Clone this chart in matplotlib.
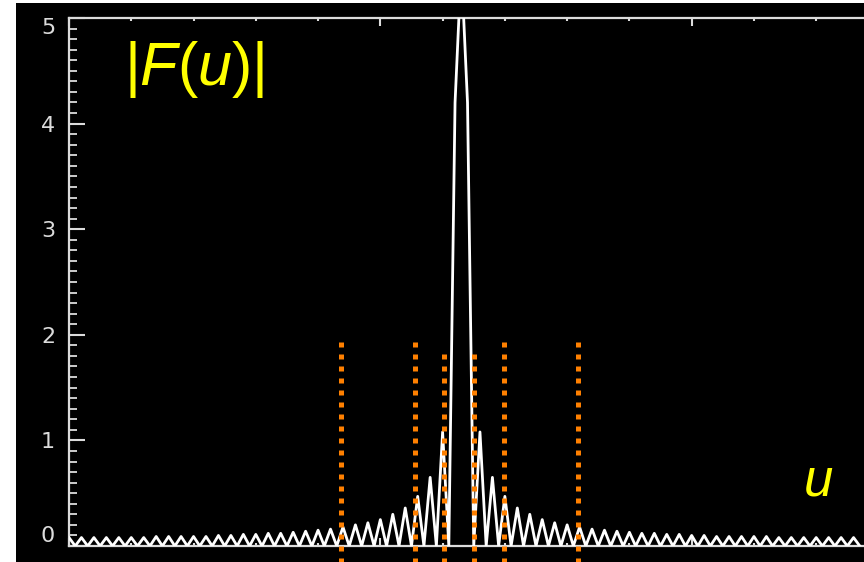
import matplotlib
matplotlib.use("Agg")
import matplotlib.pyplot as plt
import numpy as np
from matplotlib.patches import Rectangle
from matplotlib.ticker import MultipleLocator

plt.rcParams["mathtext.fontset"] = "custom"
plt.rcParams["mathtext.rm"] = "Liberation Sans"
plt.rcParams["mathtext.it"] = "Liberation Sans:italic"

# |F(u)| samples, u = 0 .. 127 (peak at u = 63, clipped at 5)
u = np.arange(128)
F_abs = [
    0.08, 0, 0.08, 0, 0.08, 0, 0.08, 0, 0.08, 0,
    0.08, 0, 0.08, 0, 0.09, 0, 0.09, 0, 0.09, 0,
    0.09, 0, 0.09, 0, 0.10, 0, 0.10, 0, 0.11, 0,
    0.11, 0, 0.12, 0, 0.12, 0, 0.13, 0, 0.14, 0,
    0.15, 0, 0.16, 0, 0.18, 0, 0.20, 0, 0.22, 0,
    0.25, 0, 0.30, 0, 0.36, 0, 0.47, 0, 0.65, 0,
    1.08, 0, 4.20, 5.50, 4.20, 0, 1.08, 0, 0.65, 0,
    0.47, 0, 0.36, 0, 0.30, 0, 0.25, 0, 0.22, 0,
    0.20, 0, 0.18, 0, 0.16, 0, 0.15, 0, 0.14, 0,
    0.13, 0, 0.12, 0, 0.12, 0, 0.11, 0, 0.11, 0,
    0.10, 0, 0.10, 0, 0.09, 0, 0.09, 0, 0.09, 0,
    0.09, 0, 0.09, 0, 0.08, 0, 0.08, 0, 0.08, 0,
    0.08, 0, 0.08, 0, 0.08, 0, 0.08, 0,
]

# orange dotted markers (u position, top value)
mark_u = [43.7, 55.5, 60.3, 65.0, 69.8, 81.7]
mark_top = [1.93, 1.93, 1.88, 1.88, 1.93, 1.93]

x_ticks = [0, 50, 100, 150]
y_ticks = [0, 1, 2, 3, 4, 5]

W, H = 864, 562
fig = plt.figure(figsize=(W / 100, H / 100), dpi=100, facecolor="white")
fig.patches.append(Rectangle((16 / W, 0), 1, (H - 3) / H, transform=fig.transFigure,
                             facecolor="black", edgecolor="none", zorder=-10))

ax = fig.add_axes([69 / W, (H - 546) / H, (1003 - 69) / W, 528 / H])
ax.set_facecolor("black")
ax.set_xlim(0, 150)
ax.set_ylim(0, 5)

axis_col = "#dcdcdc"
for side in ["left", "top", "bottom", "right"]:
    ax.spines[side].set_color(axis_col)
    ax.spines[side].set_linewidth(1.6)

ax.plot(u, F_abs, color="white", lw=2.0, zorder=3)

for xu, top in zip(mark_u, mark_top):
    ax.vlines(xu, -0.3, top, colors="#ff8000", linewidth=3.6,
              linestyles=(0, (1.0, 1.4)), clip_on=False, zorder=4)

ax.set_xticks(x_ticks)
ax.set_xticklabels([])
ax.xaxis.set_minor_locator(MultipleLocator(10))
ax.set_yticks(y_ticks)
ax.yaxis.set_minor_locator(MultipleLocator(0.1))

ax.tick_params(axis="y", which="major", direction="in", length=11.5, width=1.5,
               color=axis_col, labelcolor=axis_col, labelsize=16, pad=10)
ax.tick_params(axis="y", which="minor", direction="in", length=5.5, width=1.3,
               color=axis_col)
ax.tick_params(axis="x", which="major", direction="in", length=5.8, width=1.5,
               color=axis_col, top=True)
ax.tick_params(axis="x", which="minor", direction="in", length=2.5, width=1.5,
               color=axis_col, top=True)

# keep the end labels inside the frame, like the original
ylabels = ax.get_yticklabels()
ylabels[0].set_va("bottom")
ylabels[-1].set_va("top")

fig.text(124 / W, 1 - 69 / H, r"$|F(u)|$", color="#ffff00", fontsize=44,
         va="center", ha="left")
fig.text(818 / W, 1 - 481 / H, r"$u$", color="#ffff00", fontsize=38,
         va="center", ha="center")

fig.savefig("out.png", dpi=100, facecolor=fig.get_facecolor())
